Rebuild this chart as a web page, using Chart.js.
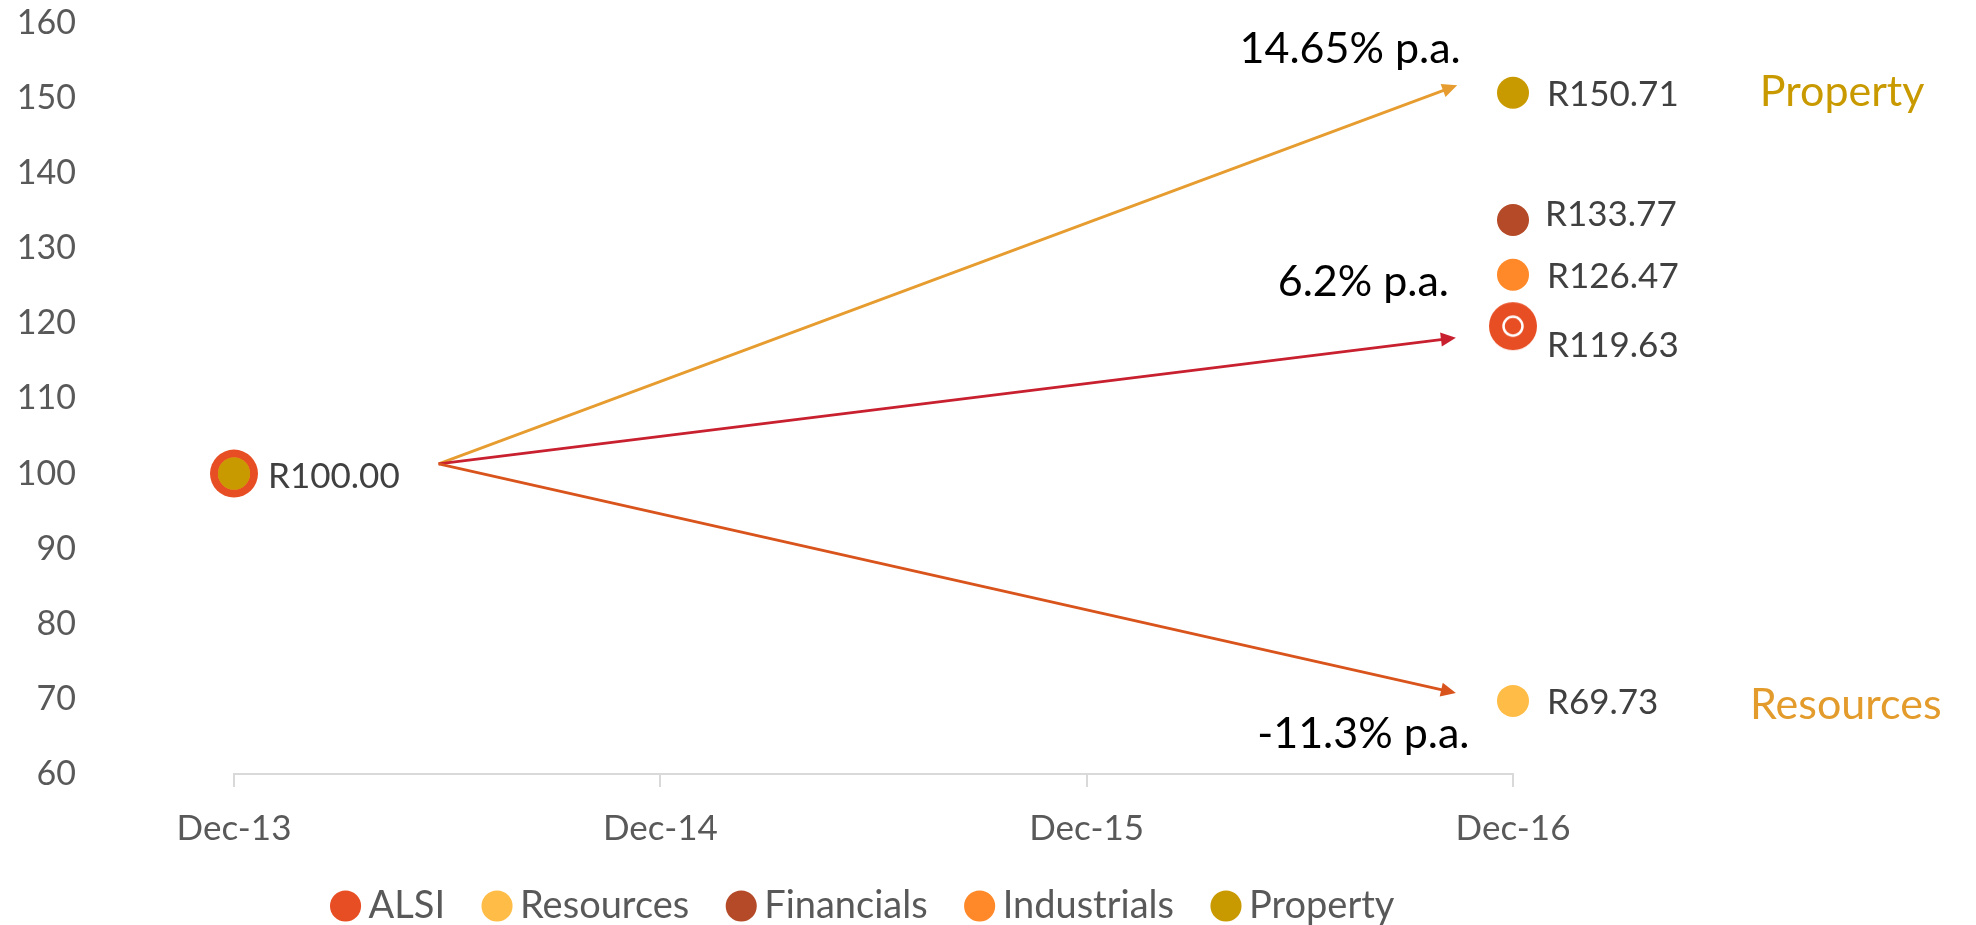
<!DOCTYPE html>
<html><head><meta charset="utf-8">
<script src="https://cdn.jsdelivr.net/npm/chart.js@4"></script>
<style>html,body{margin:0;padding:0;background:#fff}#wrap{width:1976px;height:925px;position:relative}</style>
</head><body><div id="wrap"><canvas id="c"></canvas></div>
<script>
// ---------- DATA ----------
const categories = ['Dec-13', 'Dec-14', 'Dec-15', 'Dec-16'];
const seriesNames = ['ALSI', 'Resources', 'Financials', 'Industrials', 'Property'];
const alsi        = [100, null, null, 119.63];
const resources   = [100, null, null, 69.73];
const financials  = [100, null, null, 133.77];
const industrials = [100, null, null, 126.47];
const property    = [100, null, null, 150.71];
const yTickValues = [60, 70, 80, 90, 100, 110, 120, 130, 140, 150, 160];
// growth arrows (category index, value)
const arrowStart = [0.48, 101.3];
const arrowEndX = [2.869, 2.866, 2.866];
const arrowEndY = [151.7, 118.1, 70.8];
const arrowTexts = ['14.65% p.a.', '6.2% p.a.', '-11.3% p.a.'];
const sectorTexts = ['Property', 'Resources'];

// ---------- STYLE ----------
const seriesColors = ['#E84E24', '#FFBD47', '#B44A27', '#FF8828', '#C99A00'];
const arrowColors = ['#E69C2E', '#C8202F', '#D9541C'];
const arrowTextPos = [[2.618, 154.67], [2.649, 123.65], [2.649, 63.46]];
const sectorTextPos = [[3.579, 148.95], [3.556, 67.3]];
const sectorTextColors = ['#C99A00', '#E39B2C'];
// label offsets [dx, dy] per series at the last point
const lastLabelOffset = [[34, 20], [34, 2], [32, -5.5], [34, 2], [34, 2]];
const firstLabelOffset = [34, 3];
const FONT = 'Lato';
const PAD_BOTTOM = -40;

Chart.defaults.font.family = FONT;

// ALSI end-marker with white ring
const ring = document.createElement('canvas');
ring.width = 50; ring.height = 50;
(function () {
  const g = ring.getContext('2d');
  g.fillStyle = seriesColors[0];
  g.beginPath(); g.arc(25, 25, 24, 0, Math.PI * 2); g.fill();
  g.strokeStyle = '#fff'; g.lineWidth = 2.5;
  g.beginPath(); g.arc(25, 25, 9.5, 0, Math.PI * 2); g.stroke();
})();

const seriesData = [alsi, resources, financials, industrials, property];
const datasets = seriesData.map((d, i) => ({
  label: seriesNames[i],
  data: d,
  showLine: false,
  clip: false,
  backgroundColor: seriesColors[i],
  borderColor: seriesColors[i],
  borderWidth: 0,
  pointRadius: i === 0 ? 24 : 16,
  pointBorderWidth: 0,
  pointStyle: i === 0 ? ['circle', 'circle', 'circle', ring] : 'circle',
  order: i === 0 ? 10 : (i === 4 ? 0 : 5 - i)
}));

const annotate = {
  id: 'annotate',
  afterLayout(chart) {
    const lg = chart.legend;
    if (!lg) return;
    const p = lg.options.labels.padding;
    const fs = lg.options.labels.font.size;
    const ih = Math.max(fs, lg.options.labels.boxHeight);
    const h = lg.height;
    lg.top = 906 - p - ih / 2;
    lg.bottom = lg.top + h;
    lg.left = 0; lg.right = 1736; lg.width = 1736;
  },
  afterDatasetsDraw(chart) {
    const ctx = chart.ctx, xs = chart.scales.x, ys = chart.scales.y;
    ctx.save();
    // arrows
    const sx = xs.getPixelForValue(arrowStart[0]), sy = ys.getPixelForValue(arrowStart[1]);
    arrowEndX.forEach((ex0, i) => {
      const ex = xs.getPixelForValue(ex0), ey = ys.getPixelForValue(arrowEndY[i]);
      const ang = Math.atan2(ey - sy, ex - sx);
      const hl = 15, hw = 7;
      const bx = ex - hl * Math.cos(ang), by = ey - hl * Math.sin(ang);
      ctx.strokeStyle = arrowColors[i]; ctx.fillStyle = arrowColors[i];
      ctx.lineWidth = 2.8;
      ctx.beginPath(); ctx.moveTo(sx, sy); ctx.lineTo(bx + 2 * Math.cos(ang), by + 2 * Math.sin(ang)); ctx.stroke();
      ctx.beginPath();
      ctx.moveTo(ex, ey);
      ctx.lineTo(bx + hw * Math.sin(ang), by - hw * Math.cos(ang));
      ctx.lineTo(bx - hw * Math.sin(ang), by + hw * Math.cos(ang));
      ctx.closePath(); ctx.fill();
    });
    // arrow texts
    ctx.fillStyle = '#000';
    ctx.font = '43px ' + FONT;
    ctx.textAlign = 'center'; ctx.textBaseline = 'alphabetic';
    arrowTexts.forEach((t, i) => {
      ctx.fillText(t, xs.getPixelForValue(arrowTextPos[i][0]), ys.getPixelForValue(arrowTextPos[i][1]));
    });
    // sector texts
    ctx.font = '43px ' + FONT;
    ctx.textAlign = 'left';
    sectorTexts.forEach((t, i) => {
      ctx.fillStyle = sectorTextColors[i];
      ctx.fillText(t, xs.getPixelForValue(sectorTextPos[i][0]), ys.getPixelForValue(sectorTextPos[i][1]));
    });
    // value labels
    ctx.font = '35px ' + FONT;
    ctx.fillStyle = '#404040';
    ctx.textBaseline = 'middle';
    chart.data.datasets.forEach((ds, i) => {
      const meta = chart.getDatasetMeta(i);
      ds.data.forEach((v, j) => {
        if (v === null) return;
        let off;
        if (j === 0) { if (i !== 0) return; off = firstLabelOffset; }
        else off = lastLabelOffset[i];
        const pt = meta.data[j];
        ctx.fillText('R' + v.toFixed(2), pt.x + off[0], pt.y + off[1]);
      });
    });
    ctx.restore();
  }
};

new Chart(document.getElementById('c'), {
  type: 'line',
  data: { labels: categories, datasets },
  plugins: [annotate],
  options: {
    responsive: true,
    maintainAspectRatio: false,
    animation: false,
    events: [],
    layout: { autoPadding: false, padding: { left: 0, right: 463, top: 23, bottom: PAD_BOTTOM } },
    plugins: {
      tooltip: { enabled: false },
      legend: {
        position: 'bottom',
        labels: {
          usePointStyle: true,
          boxWidth: 8,
          boxHeight: 22,
          padding: 48,
          color: '#595959',
          font: { size: 38, family: FONT },
          sort: (a, b) => a.datasetIndex - b.datasetIndex
        }
      }
    },
    scales: {
      x: {
        offset: false,
        grid: { display: true, drawOnChartArea: false, drawTicks: true, tickLength: 13, color: '#D9D9D9', lineWidth: 2 },
        border: { display: true, color: '#D9D9D9', width: 2 },
        ticks: { color: '#595959', font: { size: 35 }, padding: 21, maxRotation: 0, autoSkip: false },
        afterFit: s => { s.height = s.chart.height - PAD_BOTTOM - 774 - (s.chart.legend ? s.chart.legend.height : 0); }
      },
      y: {
        min: 60, max: 160,
        grid: { display: false, drawTicks: false },
        border: { display: false },
        afterBuildTicks: s => { s.ticks = yTickValues.map(v => ({ value: v })); },
        ticks: { color: '#595959', font: { size: 34 }, padding: 158 },
        afterFit: s => { s.width = 234; s.paddingTop = 0; s.paddingBottom = 0; }
      }
    }
  }
});
</script>
</body></html>
